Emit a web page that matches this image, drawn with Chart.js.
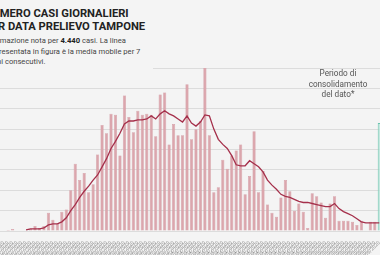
<!DOCTYPE html>
<html lang="it">
<head>
<meta charset="utf-8">
<script src="https://cdn.jsdelivr.net/npm/chart.js@4.4.1/dist/chart.umd.min.js"></script>
<style>
  html, body { margin: 0; padding: 0; }
  body { width: 380px; height: 255px; overflow: hidden; position: relative; background: #f4f4f4; font-family: Roboto, sans-serif; }
  #wrap { position: absolute; left: -40px; top: 0; width: 440px; height: 255px; }
  #cover { position: absolute; left: 0; top: 0; width: 153px; height: 70px; background: #f4f4f4; }
  #title { position: absolute; left: -15.5px; top: 6.7px; font-weight: 700; font-size: 11.2px; line-height: 13.5px; color: #222; white-space: nowrap; }
  #note { position: absolute; left: -16px; top: 36px; font-size: 7.6px; line-height: 10.5px; color: #444; white-space: nowrap; }
  #note b { color: #222; }
  #consol { position: absolute; left: 293px; width: 90px; top: 68px; text-align: center; font-size: 8.2px; line-height: 10.5px; color: #555; }
</style>
</head>
<body>
<div id="wrap"><canvas id="casi" width="440" height="255"></canvas></div>
<div id="cover"></div>
<div id="title">NUMERO CASI GIORNALIERI<br>PER DATA PRELIEVO TAMPONE</div>
<div id="note">Informazione nota per <b>4.440</b> casi. La linea<br>rappresentata in figura è la media mobile per 7<br>giorni consecutivi.</div>
<div id="consol">Periodo di<br>consolidamento<br>del dato*</div>
<script>
// casi giornalieri per data prelievo tampone
const casi = [
  0, 0, 1, 2, 0, 0, 0, 2, 5, 3, 5, 18, 11, 7, 19, 21, 40, 66, 50, 57, 38, 46,
  75, 104, 96, 115, 114, 74, 133, 112, 97, 118, 114, 115, 114, 93, 134, 136, 85, 105, 94, 94,
  144, 90, 100, 108, 161, 94, 38, 43, 70, 61, 74, 79, 85, 36, 54, 98, 38, 59, 26, 18,
  14, 33, 50, 39, 20, 27, 19, 3, 37, 34, 28, 13, 27, 34, 10, 10, 10, 9, 6, 10, 0, 9, 9, null
];

// ultimo giorno, periodo di consolidamento
const consolidamento = [];
consolidamento[85] = 106;

// media mobile 7 giorni
const mediaMobile = [
  null, null, null, null, null, null, 1, 2, 2, 2, 3, 6, 7, 7, 9, 13, 20, 26, 33, 39, 44, 50,
  55, 63, 71, 81, 88, 96, 105, 108, 108, 109, 109, 110, 113, 110, 115, 118, 115, 113, 110, 107,
  113, 106, 103, 107, 114, 113, 100, 90, 85, 81, 74, 65, 64, 64, 69, 66, 63, 58, 50, 45,
  41, 36, 34, 33, 31, 29, 28, 28, 27, 26, 25, 24, 24, 27, 22, 19, 17, 15, 12, 9, 8, 8, 8, 8
];

const giorni = [];
const d0 = new Date(2020, 1, 20);
for (let i = 0; i < casi.length; i++) {
  const d = new Date(d0.getFullYear(), d0.getMonth(), d0.getDate() + i);
  giorni.push(String(d.getDate()).padStart(2, '0') + '/' + String(d.getMonth() + 1).padStart(2, '0') + '/' + d.getFullYear());
}

const ctx = document.getElementById('casi').getContext('2d');

new Chart(ctx, {
  type: 'bar',
  data: {
    labels: giorni,
    datasets: [{
      type: 'line',
      label: 'Media mobile 7 giorni',
      data: mediaMobile,
      borderColor: '#a5304b',
      borderWidth: 1.3,
      pointRadius: 0,
      tension: 0,
      fill: false,
      order: 0
    }, {
      label: 'Casi',
      data: casi,
      backgroundColor: '#dba6ad',
      borderColor: '#cd8e97',
      borderWidth: 0.5,
      barPercentage: 0.7,
      categoryPercentage: 1,
      grouped: false,
      order: 1
    }, {
      label: 'Consolidamento',
      data: consolidamento,
      backgroundColor: '#bfe6dc',
      borderColor: '#6cc3ae',
      borderWidth: 1,
      barPercentage: 0.7,
      categoryPercentage: 1,
      grouped: false,
      order: 2
    }]
  },
  options: {
    responsive: false,
    animation: false,
    layout: { padding: { left: 37, right: 18.5, top: 68, bottom: 0 } },
    plugins: {
      legend: { display: false },
      tooltip: { enabled: false }
    },
    scales: {
      x: {
        grid: { display: false },
        border: { display: false },
        ticks: {
          autoSkip: false,
          minRotation: 45,
          maxRotation: 45,
          padding: 1,
          color: '#8c8c8c',
          font: { size: 5, family: 'Roboto' }
        },
        afterFit: (axis) => { axis.height = 24; }
      },
      y: {
        min: 0,
        max: 160,
        ticks: { display: false, stepSize: 20 },
        grid: { color: '#dcdcdc', lineWidth: 1, drawTicks: false },
        border: { display: false },
        afterFit: (axis) => { axis.width = 0; }
      }
    }
  }
});
</script>
</body>
</html>
